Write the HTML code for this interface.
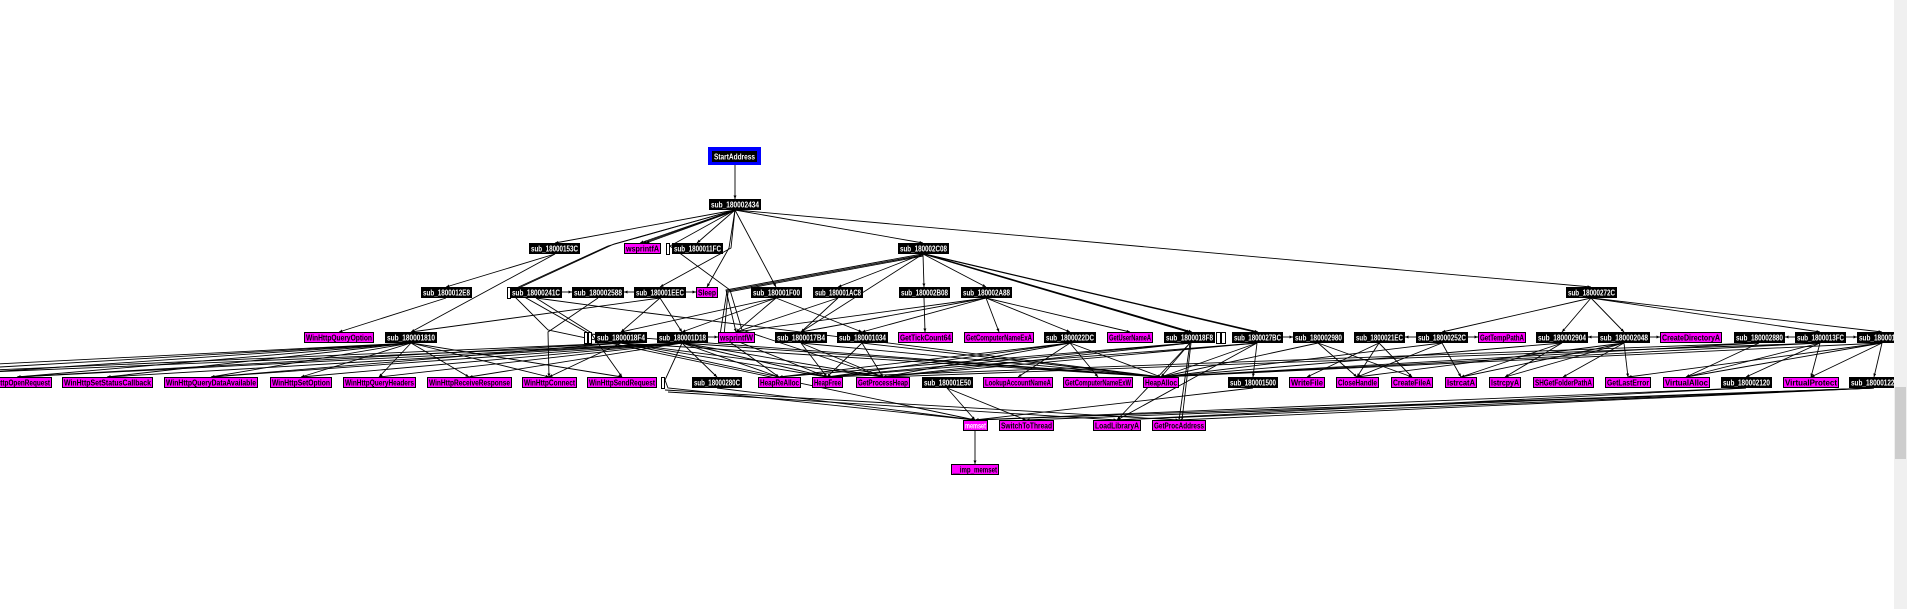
<!DOCTYPE html>
<html><head><meta charset="utf-8"><style>
html,body{margin:0;padding:0;background:#fff;width:1907px;height:609px;overflow:hidden}
svg{display:block}
text{font-family:"Liberation Sans",sans-serif;font-size:8px;font-weight:bold}
.b rect{fill:#000}
.b text{fill:#fff}
.m rect{fill:#ff00ff;stroke:#000;stroke-width:1}
.m text{fill:#000}
</style></head><body>
<svg width="1907" height="609" viewBox="0 0 1907 609" xmlns="http://www.w3.org/2000/svg">
<defs><marker id="a" markerUnits="userSpaceOnUse" markerWidth="4" markerHeight="4" refX="3.5" refY="1.5" orient="auto"><path d="M0,0 L3.5,1.5 L0,3 z" fill="#000"/></marker></defs>
<rect width="1907" height="609" fill="#fff"/>
<g stroke="#000" stroke-width="0.9" fill="none" marker-end="url(#a)">
<polyline points="735,165 735,199"/>
<polyline points="735,210 555,243"/>
<polyline points="735,210 640,243"/><polyline points="736,210 643,243"/><polyline points="737,210 646,243"/>
<polyline points="735,210 697,243"/>
<polyline points="735,210 923,243"/>
<polyline points="736,210 1591,287"/>
<polyline points="735,210 729,248 707,287"/>
<polyline points="735,210 731,248 660,287"/>
<polyline points="735,210 776,287"/>
<polyline points="735,210 614,244 510,292 548,330 975,420"/>
<polyline points="735,210 608,246 512,290 590,334 1161,377"/>
<polyline points="735,210 670,246 730,290 742,330 883,377"/>
<polyline points="555,254 446,287"/>
<polyline points="555,254 411,332"/>
<polyline points="923,254 838,287"/>
<polyline points="923,254 924,287"/>
<polyline points="923,254 986,287"/>
<polyline points="922,254 726,290 736,332"/>
<polyline points="923,255 727,291 720,335 779,377"/>
<polyline points="923,256 728,292 724,336 827,377"/>
<polyline points="923,254 1188,332"/><polyline points="924,254 1190,332"/><polyline points="925,254 1192,332"/>
<polyline points="924,254 1255,332"/><polyline points="925,254 1258,332"/>
<polyline points="923,254 801,332"/>
<polyline points="562,292 572,292"/>
<polyline points="634,292 624,292"/>
<polyline points="686,292 696,292"/>
<polyline points="446,298 339,332"/>
<polyline points="660,298 411,332"/>
<polyline points="660,298 621,332"/>
<polyline points="660,298 682,332"/>
<polyline points="536,298 640,312 1161,377"/>
<polyline points="536,298 590,332 622,377"/>
<polyline points="598,298 548,332 549,377"/>
<polyline points="776,298 621,332"/><polyline points="776,298 736,332"/><polyline points="776,298 682,332"/><polyline points="776,298 862,332"/>
<polyline points="838,298 736,332"/><polyline points="838,298 801,332"/>
<polyline points="924,298 925,332"/>
<polyline points="986,298 736,332"/><polyline points="986,298 862,332"/><polyline points="986,298 999,332"/><polyline points="986,298 1070,332"/><polyline points="986,298 1130,332"/><polyline points="986,298 801,332"/>
<polyline points="1591,298 1442,332"/><polyline points="1591,298 1624,332"/><polyline points="1591,298 1820,332"/><polyline points="1592,298 1882,332"/><polyline points="1591,298 1562,332"/>
<polyline points="708,337 718,337"/>
<polyline points="1283,337 1293,337"/>
<polyline points="1416,337 1405,337"/>
<polyline points="1468,337 1478,337"/>
<polyline points="1598,337 1588,337"/>
<polyline points="1650,337 1660,337"/>
<polyline points="1795,337 1785,337"/>
<polyline points="1846,337 1857,337"/>
<polyline points="411,343 17,377"/><polyline points="411,343 107,377"/><polyline points="411,343 211,377"/><polyline points="411,343 301,377"/><polyline points="411,343 379,377"/><polyline points="411,343 469,377"/><polyline points="411,343 549,377"/><polyline points="411,343 622,377"/>
<polyline points="411,343 -40,374"/><polyline points="411,343 -120,374"/><polyline points="411,343 -200,374"/>
<polyline points="682,343 17,377"/><polyline points="682,343 107,377"/><polyline points="682,343 211,377"/><polyline points="682,343 301,377"/><polyline points="682,343 379,377"/><polyline points="682,343 469,377"/><polyline points="682,343 -60,374"/>
<polyline points="621,343 17,377"/><polyline points="621,343 211,377"/><polyline points="621,343 -100,374"/><polyline points="621,343 549,377"/>
<polyline points="621,343 779,377"/><polyline points="621,343 827,377"/><polyline points="621,343 883,377"/><polyline points="621,343 1161,377"/>
<polyline points="682,343 717,377"/><polyline points="682,343 883,377"/><polyline points="682,343 1161,377"/><polyline points="682,343 827,377"/><polyline points="682,343 779,377"/>
<polyline points="682,343 665,380 668,388 975,420"/>
<polyline points="801,343 883,377"/><polyline points="801,343 1161,377"/><polyline points="801,343 827,377"/>
<polyline points="862,343 1161,377"/><polyline points="862,343 827,377"/><polyline points="862,343 883,377"/>
<polyline points="1070,343 1018,377"/><polyline points="1070,343 1098,377"/><polyline points="1070,343 1161,377"/><polyline points="1070,343 827,377"/><polyline points="1070,343 883,377"/><polyline points="1070,343 779,377"/>
<polyline points="1190,343 1161,377"/><polyline points="1190,343 1117,420"/><polyline points="1190,343 1179,420"/><polyline points="1191,343 1182,420"/><polyline points="1190,343 827,377"/><polyline points="1190,343 883,377"/><polyline points="1190,343 779,377"/>
<polyline points="1257,343 1253,377"/><polyline points="1257,343 1161,377"/><polyline points="1257,343 827,377"/><polyline points="1257,343 883,377"/><polyline points="1257,343 1117,420"/>
<polyline points="1318,343 1357,377"/><polyline points="1318,343 1412,377"/><polyline points="1318,343 1161,377"/>
<polyline points="1379,343 1307,377"/><polyline points="1379,343 1357,377"/><polyline points="1379,343 1412,377"/>
<polyline points="1442,343 1461,377"/><polyline points="1442,343 1357,377"/><polyline points="1442,343 1161,377"/>
<polyline points="1562,343 1505,377"/><polyline points="1562,343 1461,377"/><polyline points="1562,343 1161,377"/>
<polyline points="1624,343 1563,377"/><polyline points="1624,343 1628,377"/><polyline points="1624,343 1461,377"/><polyline points="1624,343 1505,377"/><polyline points="1624,343 1357,377"/>
<polyline points="1759,343 1686,377"/><polyline points="1759,343 1161,377"/><polyline points="1759,343 827,377"/>
<polyline points="1820,343 1686,377"/><polyline points="1820,343 1746,377"/><polyline points="1820,343 1811,377"/><polyline points="1820,343 883,377"/><polyline points="1820,343 1161,377"/>
<polyline points="1882,343 1811,377"/><polyline points="1882,343 1874,377"/><polyline points="1882,343 1686,377"/><polyline points="1882,343 1161,377"/><polyline points="1882,343 1628,377"/>
<polyline points="717,388 975,420"/>
<polyline points="947,388 1026,420"/><polyline points="947,388 975,420"/>
<polyline points="1253,388 975,420"/>
<polyline points="1746,388 1117,420"/><polyline points="1746,388 975,420"/>
<polyline points="1874,388 1117,420"/><polyline points="1874,388 1179,420"/><polyline points="1874,388 975,420"/><polyline points="1874,388 1026,420"/>
<polyline points="665,390 1179,420"/><polyline points="668,392 1117,420"/>
<polyline points="975,431 975,464"/>
</g>
<g stroke="#000" stroke-width="1" fill="#fff">
<rect x="507.5" y="287.5" width="3" height="11"/>
<rect x="666.5" y="243.5" width="3" height="11"/>
<rect x="584.5" y="332.5" width="3" height="11"/><rect x="588.5" y="332.5" width="3" height="11"/>
<rect x="1216.5" y="332.5" width="4" height="11"/><rect x="1221.5" y="332.5" width="4" height="11"/>
<rect x="661.5" y="377.5" width="3" height="11"/>
</g>
<rect x="708" y="147" width="53" height="18" fill="#0000ff"/>
<g class="b">
<rect x="712" y="151" width="45" height="11"/><text x="714" y="159.5" textLength="41" lengthAdjust="spacingAndGlyphs">StartAddress</text>
</g>
<g class="b">
<rect x="709" y="199" width="52" height="11"/><text x="711" y="207.5" textLength="48" lengthAdjust="spacingAndGlyphs">sub_180002434</text>
<rect x="529" y="243" width="51" height="11"/><text x="531" y="251.5" textLength="47" lengthAdjust="spacingAndGlyphs">sub_18000153C</text>
<rect x="672" y="243" width="51" height="11"/><text x="674" y="251.5" textLength="47" lengthAdjust="spacingAndGlyphs">sub_1800011FC</text>
<rect x="898" y="243" width="51" height="11"/><text x="900" y="251.5" textLength="47" lengthAdjust="spacingAndGlyphs">sub_180002C08</text>
<rect x="421" y="287" width="51" height="11"/><text x="423" y="295.5" textLength="47" lengthAdjust="spacingAndGlyphs">sub_1800012E8</text>
<rect x="510" y="287" width="52" height="11"/><text x="512" y="295.5" textLength="48" lengthAdjust="spacingAndGlyphs">sub_18000241C</text>
<rect x="572" y="287" width="52" height="11"/><text x="574" y="295.5" textLength="48" lengthAdjust="spacingAndGlyphs">sub_180002588</text>
<rect x="634" y="287" width="52" height="11"/><text x="636" y="295.5" textLength="48" lengthAdjust="spacingAndGlyphs">sub_180001EEC</text>
<rect x="751" y="287" width="51" height="11"/><text x="753" y="295.5" textLength="47" lengthAdjust="spacingAndGlyphs">sub_180001F00</text>
<rect x="813" y="287" width="50" height="11"/><text x="815" y="295.5" textLength="46" lengthAdjust="spacingAndGlyphs">sub_180001AC8</text>
<rect x="899" y="287" width="51" height="11"/><text x="901" y="295.5" textLength="47" lengthAdjust="spacingAndGlyphs">sub_180002B08</text>
<rect x="961" y="287" width="51" height="11"/><text x="963" y="295.5" textLength="47" lengthAdjust="spacingAndGlyphs">sub_180002A88</text>
<rect x="1566" y="287" width="51" height="11"/><text x="1568" y="295.5" textLength="47" lengthAdjust="spacingAndGlyphs">sub_18000272C</text>
<rect x="385" y="332" width="52" height="11"/><text x="387" y="340.5" textLength="48" lengthAdjust="spacingAndGlyphs">sub_180001810</text>
<rect x="595" y="332" width="52" height="11"/><text x="597" y="340.5" textLength="48" lengthAdjust="spacingAndGlyphs">sub_1800018F4</text>
<rect x="657" y="332" width="51" height="11"/><text x="659" y="340.5" textLength="47" lengthAdjust="spacingAndGlyphs">sub_180001D18</text>
<rect x="775" y="332" width="52" height="11"/><text x="777" y="340.5" textLength="48" lengthAdjust="spacingAndGlyphs">sub_1800017B4</text>
<rect x="837" y="332" width="51" height="11"/><text x="839" y="340.5" textLength="47" lengthAdjust="spacingAndGlyphs">sub_180001034</text>
<rect x="1044" y="332" width="52" height="11"/><text x="1046" y="340.5" textLength="48" lengthAdjust="spacingAndGlyphs">sub_1800022DC</text>
<rect x="1164" y="332" width="51" height="11"/><text x="1166" y="340.5" textLength="47" lengthAdjust="spacingAndGlyphs">sub_1800018F8</text>
<rect x="1232" y="332" width="51" height="11"/><text x="1234" y="340.5" textLength="47" lengthAdjust="spacingAndGlyphs">sub_1800027BC</text>
<rect x="1293" y="332" width="51" height="11"/><text x="1295" y="340.5" textLength="47" lengthAdjust="spacingAndGlyphs">sub_180002980</text>
<rect x="1354" y="332" width="51" height="11"/><text x="1356" y="340.5" textLength="47" lengthAdjust="spacingAndGlyphs">sub_1800021EC</text>
<rect x="1416" y="332" width="52" height="11"/><text x="1418" y="340.5" textLength="48" lengthAdjust="spacingAndGlyphs">sub_18000252C</text>
<rect x="1536" y="332" width="52" height="11"/><text x="1538" y="340.5" textLength="48" lengthAdjust="spacingAndGlyphs">sub_180002904</text>
<rect x="1598" y="332" width="52" height="11"/><text x="1600" y="340.5" textLength="48" lengthAdjust="spacingAndGlyphs">sub_180002048</text>
<rect x="1734" y="332" width="51" height="11"/><text x="1736" y="340.5" textLength="47" lengthAdjust="spacingAndGlyphs">sub_180002880</text>
<rect x="1795" y="332" width="51" height="11"/><text x="1797" y="340.5" textLength="47" lengthAdjust="spacingAndGlyphs">sub_1800013FC</text>
<rect x="1857" y="332" width="51" height="11"/><text x="1859" y="340.5" textLength="47" lengthAdjust="spacingAndGlyphs">sub_180001000</text>
<rect x="692" y="377" width="50" height="11"/><text x="694" y="385.5" textLength="46" lengthAdjust="spacingAndGlyphs">sub_18000280C</text>
<rect x="922" y="377" width="51" height="11"/><text x="924" y="385.5" textLength="47" lengthAdjust="spacingAndGlyphs">sub_180001E50</text>
<rect x="1228" y="377" width="50" height="11"/><text x="1230" y="385.5" textLength="46" lengthAdjust="spacingAndGlyphs">sub_180001500</text>
<rect x="1721" y="377" width="51" height="11"/><text x="1723" y="385.5" textLength="47" lengthAdjust="spacingAndGlyphs">sub_180002120</text>
<rect x="1849" y="377" width="51" height="11"/><text x="1851" y="385.5" textLength="47" lengthAdjust="spacingAndGlyphs">sub_180001228</text>
</g>
<g class="m">
<rect x="624.5" y="243.5" width="36" height="10"/><text x="626" y="251.5" textLength="33" lengthAdjust="spacingAndGlyphs">wsprintfA</text>
<rect x="696.5" y="287.5" width="21" height="10"/><text x="698" y="295.5" textLength="18" lengthAdjust="spacingAndGlyphs">Sleep</text>
<rect x="304.5" y="332.5" width="69" height="10"/><text x="306" y="340.5" textLength="66" lengthAdjust="spacingAndGlyphs">WinHttpQueryOption</text>
<rect x="718.5" y="332.5" width="36" height="10"/><text x="720" y="340.5" textLength="33" lengthAdjust="spacingAndGlyphs">wsprintfW</text>
<rect x="898.5" y="332.5" width="54" height="10"/><text x="900" y="340.5" textLength="51" lengthAdjust="spacingAndGlyphs">GetTickCount64</text>
<rect x="964.5" y="332.5" width="69" height="10"/><text x="966" y="340.5" textLength="66" lengthAdjust="spacingAndGlyphs">GetComputerNameExA</text>
<rect x="1107.5" y="332.5" width="45" height="10"/><text x="1109" y="340.5" textLength="42" lengthAdjust="spacingAndGlyphs">GetUserNameA</text>
<rect x="1478.5" y="332.5" width="47" height="10"/><text x="1480" y="340.5" textLength="44" lengthAdjust="spacingAndGlyphs">GetTempPathA</text>
<rect x="1660.5" y="332.5" width="61" height="10"/><text x="1662" y="340.5" textLength="58" lengthAdjust="spacingAndGlyphs">CreateDirectoryA</text>
<rect x="-17.5" y="377.5" width="69" height="10"/><text x="-16" y="385.5" textLength="66" lengthAdjust="spacingAndGlyphs">WinHttpOpenRequest</text>
<rect x="62.5" y="377.5" width="90" height="10"/><text x="64" y="385.5" textLength="87" lengthAdjust="spacingAndGlyphs">WinHttpSetStatusCallback</text>
<rect x="164.5" y="377.5" width="93" height="10"/><text x="166" y="385.5" textLength="90" lengthAdjust="spacingAndGlyphs">WinHttpQueryDataAvailable</text>
<rect x="270.5" y="377.5" width="61" height="10"/><text x="272" y="385.5" textLength="58" lengthAdjust="spacingAndGlyphs">WinHttpSetOption</text>
<rect x="343.5" y="377.5" width="72" height="10"/><text x="345" y="385.5" textLength="69" lengthAdjust="spacingAndGlyphs">WinHttpQueryHeaders</text>
<rect x="427.5" y="377.5" width="84" height="10"/><text x="429" y="385.5" textLength="81" lengthAdjust="spacingAndGlyphs">WinHttpReceiveResponse</text>
<rect x="522.5" y="377.5" width="54" height="10"/><text x="524" y="385.5" textLength="51" lengthAdjust="spacingAndGlyphs">WinHttpConnect</text>
<rect x="587.5" y="377.5" width="69" height="10"/><text x="589" y="385.5" textLength="66" lengthAdjust="spacingAndGlyphs">WinHttpSendRequest</text>
<rect x="758.5" y="377.5" width="42" height="10"/><text x="760" y="385.5" textLength="39" lengthAdjust="spacingAndGlyphs">HeapReAlloc</text>
<rect x="812.5" y="377.5" width="30" height="10"/><text x="814" y="385.5" textLength="27" lengthAdjust="spacingAndGlyphs">HeapFree</text>
<rect x="856.5" y="377.5" width="53" height="10"/><text x="858" y="385.5" textLength="50" lengthAdjust="spacingAndGlyphs">GetProcessHeap</text>
<rect x="983.5" y="377.5" width="69" height="10"/><text x="985" y="385.5" textLength="66" lengthAdjust="spacingAndGlyphs">LookupAccountNameA</text>
<rect x="1063.5" y="377.5" width="69" height="10"/><text x="1065" y="385.5" textLength="66" lengthAdjust="spacingAndGlyphs">GetComputerNameExW</text>
<rect x="1143.5" y="377.5" width="35" height="10"/><text x="1145" y="385.5" textLength="32" lengthAdjust="spacingAndGlyphs">HeapAlloc</text>
<rect x="1289.5" y="377.5" width="35" height="10"/><text x="1291" y="385.5" textLength="32" lengthAdjust="spacingAndGlyphs">WriteFile</text>
<rect x="1336.5" y="377.5" width="42" height="10"/><text x="1338" y="385.5" textLength="39" lengthAdjust="spacingAndGlyphs">CloseHandle</text>
<rect x="1391.5" y="377.5" width="41" height="10"/><text x="1393" y="385.5" textLength="38" lengthAdjust="spacingAndGlyphs">CreateFileA</text>
<rect x="1445.5" y="377.5" width="31" height="10"/><text x="1447" y="385.5" textLength="28" lengthAdjust="spacingAndGlyphs">lstrcatA</text>
<rect x="1489.5" y="377.5" width="31" height="10"/><text x="1491" y="385.5" textLength="28" lengthAdjust="spacingAndGlyphs">lstrcpyA</text>
<rect x="1533.5" y="377.5" width="60" height="10"/><text x="1535" y="385.5" textLength="57" lengthAdjust="spacingAndGlyphs">SHGetFolderPathA</text>
<rect x="1605.5" y="377.5" width="45" height="10"/><text x="1607" y="385.5" textLength="42" lengthAdjust="spacingAndGlyphs">GetLastError</text>
<rect x="1663.5" y="377.5" width="46" height="10"/><text x="1665" y="385.5" textLength="43" lengthAdjust="spacingAndGlyphs">VirtualAlloc</text>
<rect x="1783.5" y="377.5" width="55" height="10"/><text x="1785" y="385.5" textLength="52" lengthAdjust="spacingAndGlyphs">VirtualProtect</text>
<rect x="963.5" y="420.5" width="24" height="10"/><text x="965" y="428.5" textLength="21" lengthAdjust="spacingAndGlyphs" style="fill:#fff">memset</text>
<rect x="999.5" y="420.5" width="54" height="10"/><text x="1001" y="428.5" textLength="51" lengthAdjust="spacingAndGlyphs">SwitchToThread</text>
<rect x="1093.5" y="420.5" width="47" height="10"/><text x="1095" y="428.5" textLength="44" lengthAdjust="spacingAndGlyphs">LoadLibraryA</text>
<rect x="1152.5" y="420.5" width="53" height="10"/><text x="1154" y="428.5" textLength="50" lengthAdjust="spacingAndGlyphs">GetProcAddress</text>
<rect x="951.5" y="464.5" width="47" height="10"/><text x="953" y="472.5" textLength="44" lengthAdjust="spacingAndGlyphs">__imp_memset</text>
</g>
<rect x="1894" y="0" width="13" height="609" fill="#f0f0f0"/>
<rect x="1895" y="387" width="11" height="72" fill="#cdcdcd"/>
</svg>
</body></html>
